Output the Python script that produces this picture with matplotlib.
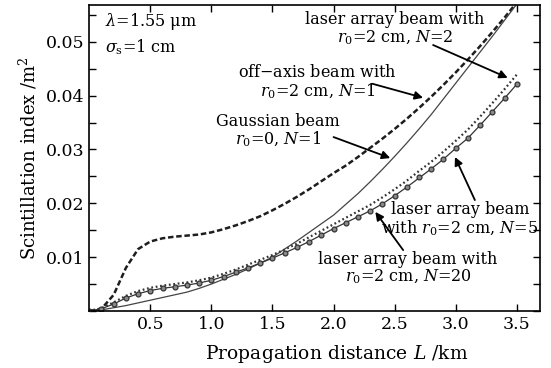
import numpy as np
import matplotlib
matplotlib.use('Agg')
import matplotlib.pyplot as plt
from matplotlib.ticker import MultipleLocator, FormatStrFormatter

# propagation distance L (km), sampled every 0.1 km
L = np.round(np.arange(0, 3.51, 0.1), 1)

# off-axis beam, r0 = 2 cm, N = 1 (dashed)
off_axis = [0.0, 0.0004, 0.0030, 0.0080, 0.0115, 0.0129, 0.0135, 0.0138, 0.0140, 0.0142,
            0.0146, 0.0152, 0.0159, 0.0167, 0.0176, 0.0187, 0.0199, 0.0212, 0.0226, 0.0241,
            0.0256, 0.0270, 0.0286, 0.0303, 0.0320, 0.0338, 0.0357, 0.0377, 0.0398, 0.0420,
            0.0443, 0.0467, 0.0492, 0.0518, 0.0545, 0.0573]
# Gaussian beam, r0 = 0, N = 1 (thin solid)
gaussian = [0.0, 0.0002, 0.0006, 0.0010, 0.0015, 0.0020, 0.0025, 0.0030, 0.0035, 0.0042,
            0.0050, 0.0059, 0.0068, 0.0078, 0.0089, 0.0100, 0.0115, 0.0130, 0.0146, 0.0162,
            0.0178, 0.0198, 0.0218, 0.0240, 0.0263, 0.0287, 0.0312, 0.0338, 0.0365, 0.0394,
            0.0423, 0.0452, 0.0481, 0.0510, 0.0540, 0.0570]
# laser array beam, r0 = 2 cm, N = 2 (dotted)
array_n2 = [0.0, 0.0005, 0.0016, 0.0028, 0.0037, 0.0043, 0.0047, 0.0050, 0.0053, 0.0057,
            0.0062, 0.0069, 0.0077, 0.0086, 0.0095, 0.0104, 0.0114, 0.0125, 0.0137, 0.0149,
            0.0161, 0.0173, 0.0185, 0.0197, 0.0211, 0.0226, 0.0242, 0.0260, 0.0277, 0.0296,
            0.0316, 0.0337, 0.0361, 0.0386, 0.0412, 0.0439]
# laser array beam, r0 = 2 cm, N = 5 (solid through the circles)
array_n5 = [0.0, 0.0004, 0.0013, 0.0024, 0.0032, 0.0038, 0.0042, 0.0045, 0.0048, 0.0052,
            0.0057, 0.0064, 0.0072, 0.0080, 0.0089, 0.0098, 0.0108, 0.0118, 0.0129, 0.0141,
            0.0153, 0.0164, 0.0175, 0.0186, 0.0199, 0.0214, 0.0230, 0.0247, 0.0264, 0.0282,
            0.0302, 0.0321, 0.0345, 0.0370, 0.0395, 0.0421]
# laser array beam, r0 = 2 cm, N = 20 (circles)
array_n20 = [0.0, 0.0004, 0.0013, 0.0024, 0.0032, 0.0038, 0.0042, 0.0045, 0.0048, 0.0052,
             0.0057, 0.0064, 0.0072, 0.0080, 0.0089, 0.0098, 0.0108, 0.0118, 0.0129, 0.0141,
             0.0153, 0.0164, 0.0175, 0.0185, 0.0199, 0.0214, 0.0230, 0.0248, 0.0264, 0.0282,
             0.0302, 0.0321, 0.0345, 0.0370, 0.0395, 0.0421]

plt.rcParams['font.family'] = ['DejaVu Serif']
plt.rcParams['mathtext.fontset'] = 'dejavuserif'

fig = plt.figure(figsize=(5.51, 3.68), dpi=100)
ax = fig.add_axes([0.162, 0.155, 0.818, 0.831])

ink = '#1e1e1e'
ax.plot(L, off_axis, color=ink, lw=1.8, ls=(0, (2.2, 1.1)))
ax.plot(L, gaussian, color='#444444', lw=0.9)
ax.plot(L, array_n2, color='#333333', lw=1.6, ls=(0, (0.8, 1.2)))
ax.plot(L, array_n5, color='#333333', lw=0.9)
ax.plot(L, array_n20, ls='none', marker='o', ms=3.5, mfc='#8a8a8a', mec='#333333', mew=0.9)

ax.set_xlim(0, 3.69)
ax.set_ylim(0, 0.0568)
ax.yaxis.set_minor_locator(MultipleLocator(0.005))
ax.xaxis.set_major_formatter(FormatStrFormatter('%.1f'))
ax.yaxis.set_major_formatter(FormatStrFormatter('%.2f'))
# no labels at zero
ax.set_xticks(np.arange(0.5, 3.51, 0.5))
ax.set_yticks(np.arange(0.01, 0.051, 0.01))
ax.tick_params(which='both', direction='in', top=True, right=True, labelsize=12.5,
               width=1.0, length=5)
for s in ax.spines.values():
    s.set_linewidth(1.2)

ax.set_xlabel('Propagation distance $L$ /km', fontsize=13.5)
ax.xaxis.set_label_coords(0.548, -0.105)
ax.set_ylabel('Scintillation index /m$^2$', fontsize=13, labelpad=5)

fs = 11.5
ax.text(0.125, 0.0537, r'$\lambda$=1.55 μm', fontsize=fs, ha='left', va='center')
ax.text(0.125, 0.0490, r'$\sigma_\mathrm{s}$=1 cm', fontsize=fs, ha='left', va='center')

labels = [
    ('laser array beam with\n$r_0$=2 cm, $N$=2', (2.50, 0.0524), (2.815, 0.0494), (3.426, 0.0433)),
    ('off$-$axis beam with\n$r_0$=2 cm, $N$=1', (1.87, 0.0424), (2.318, 0.0422), (2.733, 0.0396)),
    ('Gaussian beam\n$r_0$=0, $N$=1', (1.543, 0.0334), (2.00, 0.0323), (2.464, 0.0284)),
    ('laser array beam\nwith $r_0$=2 cm, $N$=5', (3.035, 0.0170), (3.157, 0.0206), (2.994, 0.0286)),
    ('laser array beam with\n$r_0$=2 cm, $N$=20', (2.611, 0.0079), (2.57, 0.0113), (2.342, 0.0184)),
]
for txt, pos, tail, tip in labels:
    ax.text(pos[0], pos[1], txt, fontsize=fs, ha='center', va='center', linespacing=1.0)
    ax.annotate('', xy=tip, xytext=tail,
                arrowprops=dict(arrowstyle='-|>', color='black', lw=1.3,
                                mutation_scale=12, shrinkA=0, shrinkB=0))

fig.savefig('out.png', dpi=100)
